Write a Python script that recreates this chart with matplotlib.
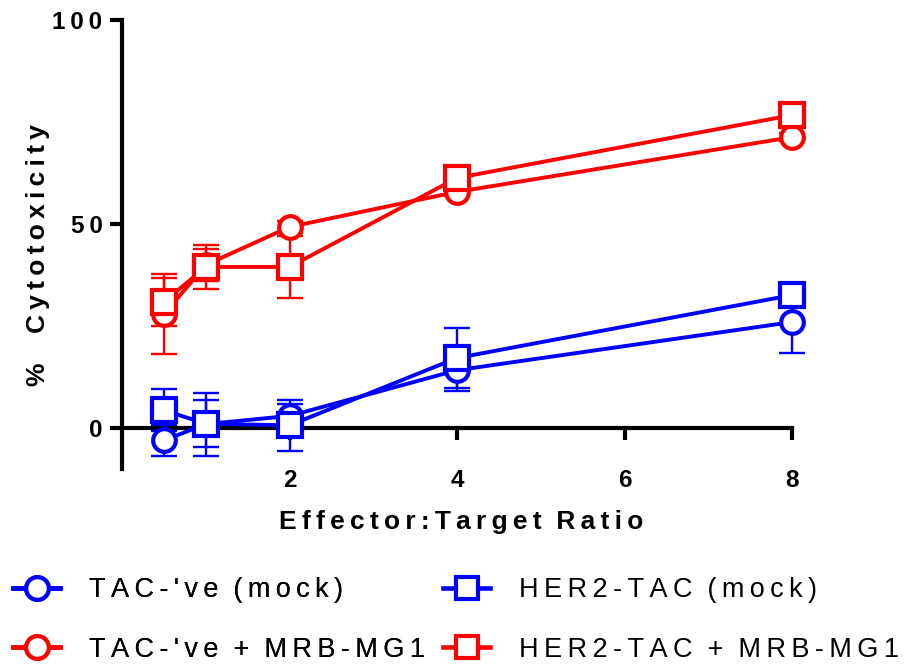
import matplotlib
matplotlib.use("Agg")
import matplotlib.pyplot as plt
from matplotlib.lines import Line2D

plt.rcParams['font.family'] = ['Liberation Sans', 'DejaVu Sans']

# ---- data ----
ratios = [0.5, 1, 2, 4, 8]
series_names = ["TAC-'ve (mock)", "HER2-TAC (mock)", "TAC-'ve + MRB-MG1", "HER2-TAC + MRB-MG1"]
tac_mock = [-3.0, 1.0, 3.0, 14.2, 26.0]
tac_mock_err = [3.9, 7.7, 3.0, 5.0, 7.5]
her2_mock = [4.4, 1.1, 0.7, 17.2, 32.6]
her2_mock_err = [5.2, 5.8, 6.3, 7.3, 3.0]
tac_mrb = [27.9, 40.0, 49.3, 57.9, 71.3]
tac_mrb_err = [9.8, 4.0, 1.5, 1.0, 1.0]
her2_mrb = [30.9, 39.5, 39.5, 61.3, 76.7]
her2_mrb_err = [5.8, 5.5, 7.5, 1.0, 1.0]

x_ticks = [2, 4, 6, 8]
y_ticks = [0, 50, 100]
x_label = "Effector:Target Ratio"
y_label = "% Cytotoxicity"

BLUE = '#0000ff'
RED = '#ff0000'

W, H = 909, 664

def spaced(s, sep='\u2009', word_sep='  '):
    return word_sep.join(sep.join(w) for w in s.split(' '))

fig = plt.figure(figsize=(W/100, H/100), dpi=100)
ax = fig.add_axes([122/W, 1-469/H, (792-122)/W, (469-20)/H])

styles = [
    (tac_mock, tac_mock_err, BLUE, 'o', 16.3),
    (her2_mock, her2_mock_err, BLUE, 's', 17.0),
    (tac_mrb, tac_mrb_err, RED, 'o', 16.3),
    (her2_mrb, her2_mrb_err, RED, 's', 17.0),
]

for i, (y, e, c, m, ms) in enumerate(styles):
    ax.errorbar(ratios, y, yerr=e, fmt='none', ecolor=c, elinewidth=1.7,
                capsize=9.7, capthick=1.7, zorder=2 + i*0.01, clip_on=False)
for i, (y, e, c, m, ms) in enumerate(styles):
    ax.plot(ratios, y, color=c, lw=2.8, marker=m, ms=ms, mew=3.0,
            mfc='white', mec=c, zorder=3 + i, clip_on=False)

ax.set_xlim(0, 8)
ax.set_ylim(-10, 100)
for s in ['top', 'right']:
    ax.spines[s].set_visible(False)
ax.spines['bottom'].set_position(('data', 0))
ax.spines['bottom'].set_bounds(0, 8)
ax.spines['bottom'].set_linewidth(3)
ax.spines['left'].set_linewidth(3)
ax.spines['bottom'].set_zorder(1)

ax.set_xticks(x_ticks)
ax.set_xticklabels([str(t) for t in x_ticks])
ax.set_yticks(y_ticks)
ax.set_yticklabels([spaced(str(t)) for t in y_ticks])
ax.tick_params(axis='x', length=8.6, width=3, pad=20.5, labelsize=17.5)
ax.tick_params(axis='y', length=9.0, width=3, pad=5, labelsize=17.5)
for lab in ax.get_xticklabels() + ax.get_yticklabels():
    lab.set_fontweight('bold')

fig.text(461/W, 1-529/H, spaced(x_label), ha='center', va='baseline',
         fontsize=19, fontweight='bold')
fig.text(45/W, 1-255/H, spaced(y_label, word_sep='    '), ha='center', va='baseline',
         fontsize=19, fontweight='bold', rotation=90, rotation_mode='anchor')

def handle(c, m, ms):
    return Line2D([0], [0], color=c, lw=3.3, marker=m, ms=ms, mew=3.0, mfc='white', mec=c)

common = dict(loc='upper left', frameon=False, borderpad=0, borderaxespad=0,
              handlelength=1.75, handletextpad=1.06, labelspacing=1.25, fontsize=19.5)
leg1 = fig.legend([handle(BLUE, 'o', 16.3), handle(RED, 'o', 16.3)],
                  [spaced(series_names[0]), spaced(series_names[2])],
                  bbox_to_anchor=(13/W, 1-577/H), **common)
leg2 = fig.legend([handle(BLUE, 's', 16.5), handle(RED, 's', 16.5)],
                  [spaced(series_names[1]), spaced(series_names[3])],
                  bbox_to_anchor=(443/W, 1-577/H), **common)
fig.add_artist(leg1)

fig.savefig('out.png', dpi=100)
